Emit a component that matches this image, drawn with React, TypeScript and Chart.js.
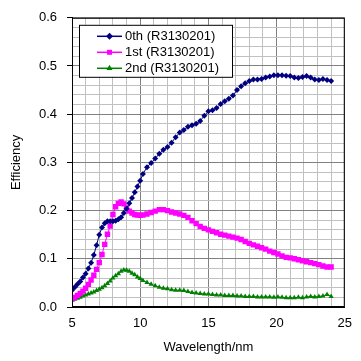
import { useEffect, useRef } from 'react';
import { Chart, registerables } from 'chart.js';
Chart.register(...registerables);

const wavelengths = [
  5.0, 5.2, 5.4, 5.6, 5.8, 6.0, 6.2, 6.4, 6.6, 6.8, 7.0, 7.2, 7.4, 7.6, 7.8, 8.0, 8.2, 8.4, 8.6, 8.8, 9.0, 9.2, 9.4,
  9.6, 9.8, 10.0,
  10.2, 10.5, 10.8, 11.1, 11.4, 11.7, 12.0, 12.3, 12.6, 12.9, 13.2, 13.5, 13.8, 14.1, 14.4, 14.7, 15.0, 15.3, 15.6,
  15.9, 16.2, 16.5, 16.8, 17.1, 17.4, 17.7, 18.0, 18.3, 18.6, 18.9, 19.2, 19.5, 19.8, 20.1, 20.4, 20.7, 21.0, 21.3,
  21.6, 21.9, 22.2, 22.5, 22.8, 23.1, 23.4, 23.7, 24.0,
];

const order0 = [
  0.035, 0.041, 0.047, 0.053, 0.061, 0.069, 0.08, 0.092, 0.108, 0.128, 0.15, 0.165, 0.174, 0.178, 0.178, 0.178,
  0.179, 0.182, 0.186, 0.195, 0.204, 0.215, 0.226, 0.238, 0.25, 0.262,
  0.276, 0.29, 0.299, 0.308, 0.318, 0.326, 0.332, 0.341, 0.352, 0.362, 0.367, 0.374, 0.377, 0.38, 0.386, 0.397,
  0.406, 0.408, 0.413, 0.421, 0.427, 0.432, 0.439, 0.45, 0.458, 0.464, 0.469, 0.472, 0.472, 0.473, 0.476, 0.478,
  0.481, 0.481, 0.481, 0.48, 0.479, 0.476, 0.475, 0.477, 0.479, 0.476, 0.472, 0.471, 0.473, 0.471, 0.469,
];

const order1 = [
  0.017, 0.02, 0.024, 0.028, 0.033, 0.039, 0.047, 0.056, 0.066, 0.078, 0.092, 0.109, 0.13, 0.151, 0.168, 0.192,
  0.208, 0.215, 0.218, 0.214, 0.205, 0.199, 0.195, 0.192, 0.191, 0.19,
  0.191, 0.193, 0.196, 0.199, 0.202, 0.202, 0.2, 0.197, 0.195, 0.193, 0.19, 0.186, 0.179, 0.173, 0.167, 0.163,
  0.16, 0.157, 0.154, 0.151, 0.149, 0.147, 0.145, 0.143, 0.14, 0.136, 0.132, 0.129, 0.126, 0.123, 0.12, 0.116,
  0.113, 0.11, 0.106, 0.103, 0.102, 0.1, 0.098, 0.096, 0.094, 0.092, 0.09, 0.088, 0.085, 0.083, 0.083,
];

const order2 = [
  0.014, 0.016, 0.018, 0.02, 0.023, 0.025, 0.027, 0.029, 0.031, 0.034, 0.037, 0.04, 0.044, 0.049, 0.054, 0.06,
  0.065, 0.069, 0.074, 0.077, 0.076, 0.074, 0.07, 0.067, 0.062, 0.059,
  0.055, 0.051, 0.047, 0.044, 0.041, 0.039, 0.038, 0.036, 0.035, 0.035, 0.034, 0.032, 0.03, 0.029, 0.028, 0.027,
  0.027, 0.026, 0.025, 0.025, 0.024, 0.024, 0.024, 0.023, 0.023, 0.022, 0.022, 0.022, 0.021, 0.021, 0.021, 0.021,
  0.02, 0.021, 0.02, 0.019, 0.019, 0.019, 0.02, 0.019, 0.021, 0.022, 0.021, 0.022, 0.023, 0.026, 0.022,
];

const seriesNames = ['0th (R3130201)', '1st (R3130201)', '2nd (R3130201)'];
const seriesColors = ['#000080', '#FF00FF', '#008000'];
const seriesMarkers = ['rectRot', 'rect', 'triangle'];
const xTickLabels = [5, 10, 15, 20, 25];
const yTickLabels = [0, 0.1, 0.2, 0.3, 0.4, 0.5, 0.6];

const FONT = '"Liberation Sans", Arial, sans-serif';

const near = (v: number, list: number[]) => list.some((t) => Math.abs(t - v) < 1e-6);

function drawMarker(ctx: CanvasRenderingContext2D, style: string, x: number, y: number, r: number) {
  ctx.beginPath();
  if (style === 'rectRot') {
    ctx.moveTo(x, y - r);
    ctx.lineTo(x + r, y);
    ctx.lineTo(x, y + r);
    ctx.lineTo(x - r, y);
  } else if (style === 'rect') {
    const s = r * Math.SQRT1_2;
    ctx.rect(x - s, y - s, 2 * s, 2 * s);
  } else {
    ctx.moveTo(x, y - r);
    ctx.lineTo(x + r * 0.866, y + r * 0.5);
    ctx.lineTo(x - r * 0.866, y + r * 0.5);
  }
  ctx.closePath();
  ctx.fill();
}

const framePlugin = {
  id: 'frameAndLegend',
  afterDraw(chart: any) {
    const { ctx, chartArea } = chart;
    ctx.save();
    ctx.strokeStyle = '#000';
    ctx.lineWidth = 1;
    ctx.strokeRect(chartArea.left + 0.5, chartArea.top + 0.5, chartArea.right - chartArea.left - 1, chartArea.bottom - chartArea.top - 1);

    const x0 = chartArea.left + 7;
    const y0 = chartArea.top + 7;
    const w = 153;
    const h = 52;
    ctx.fillStyle = '#fff';
    ctx.fillRect(x0, y0, w, h);
    ctx.strokeStyle = '#000';
    ctx.strokeRect(x0 + 0.5, y0 + 0.5, w, h);
    ctx.font = '13px ' + FONT;
    ctx.textBaseline = 'middle';
    ctx.textAlign = 'left';
    chart.data.datasets.forEach((ds: any, i: number) => {
      const cy = y0 + 11 + i * 16;
      ctx.strokeStyle = ds.borderColor;
      ctx.lineWidth = 1.5;
      ctx.beginPath();
      ctx.moveTo(x0 + 18, cy + 0.5);
      ctx.lineTo(x0 + 43, cy + 0.5);
      ctx.stroke();
      ctx.fillStyle = ds.pointBackgroundColor;
      drawMarker(ctx, ds.pointStyle, x0 + 30.5, cy + 0.5, 3.5);
      ctx.fillStyle = '#000';
      ctx.fillText(ds.label, x0 + 46, cy + 1);
    });
    ctx.restore();
  },
};

const seriesValues = [order0, order1, order2];

export default function App() {
  const ref = useRef<HTMLCanvasElement | null>(null);
  useEffect(() => {
    document.body.style.margin = '0';
    const canvas = ref.current;
    if (!canvas) return;
    const datasets = seriesValues.map((vals, i) => ({
      label: seriesNames[i],
      data: vals.map((v, j) => ({ x: wavelengths[j], y: v })),
      borderColor: seriesColors[i],
      backgroundColor: seriesColors[i],
      pointBackgroundColor: seriesColors[i],
      pointBorderColor: seriesColors[i],
      pointBorderWidth: 0,
      pointStyle: seriesMarkers[i],
      pointRadius: i === 1 ? 3.8 : 3,
      borderWidth: 1,
      tension: 0,
      fill: false,
    }));
    const chart = new Chart(canvas, {
      type: 'line',
      data: { datasets },
      options: {
        animation: false,
        responsive: true,
        maintainAspectRatio: false,
        layout: { padding: { left: 0, top: 12, right: 8, bottom: 0 } },
        plugins: { legend: { display: false }, tooltip: { enabled: false } },
        scales: {
          x: {
            type: 'linear',
            min: 5,
            max: 25,
            afterFit: (scale: any) => {
              scale.height = 54;
            },
            ticks: {
              stepSize: 1,
              autoSkip: false,
              maxRotation: 0,
              padding: 9,
              color: '#000',
              font: { family: FONT, size: 13 },
              callback: (v: any) => (near(Number(v), xTickLabels) ? String(Math.round(Number(v))) : ''),
            },
            grid: {
              drawTicks: false,
              color: (c: any) => (c.tick && near(c.tick.value, xTickLabels) ? '#808080' : '#c0c0c0'),
            },
            border: { display: true, color: '#000', width: 1 },
            title: {
              display: true,
              text: 'Wavelength/nm',
              color: '#000',
              font: { family: FONT, size: 13 },
              padding: { top: 0, bottom: 6 },
            },
          },
          y: {
            type: 'linear',
            min: 0,
            max: 0.6,
            afterFit: (scale: any) => {
              scale.width = 72;
            },
            ticks: {
              stepSize: 0.02,
              autoSkip: false,
              padding: 10,
              color: '#000',
              font: { family: FONT, size: 13 },
              callback: (v: any) => (near(Number(v), yTickLabels) ? Number(v).toFixed(1) : ''),
            },
            grid: {
              tickLength: 5,
              color: (c: any) => (c.tick && near(c.tick.value, yTickLabels) ? '#808080' : '#c0c0c0'),
              tickColor: (c: any) => (c.tick && near(c.tick.value, yTickLabels) ? '#000' : 'rgba(0,0,0,0)'),
            },
            border: { display: true, color: '#000', width: 1 },
            title: {
              display: true,
              text: 'Efficiency',
              color: '#000',
              font: { family: FONT, size: 13 },
              padding: { top: 9, bottom: 0 },
            },
          },
        },
      },
      plugins: [framePlugin],
    } as any);
    return () => chart.destroy();
  }, []);
  return (
    <div style={{ position: 'fixed', left: 0, top: 0, width: 361, height: 361, background: '#fff' }}>
      <canvas ref={ref} />
    </div>
  );
}
